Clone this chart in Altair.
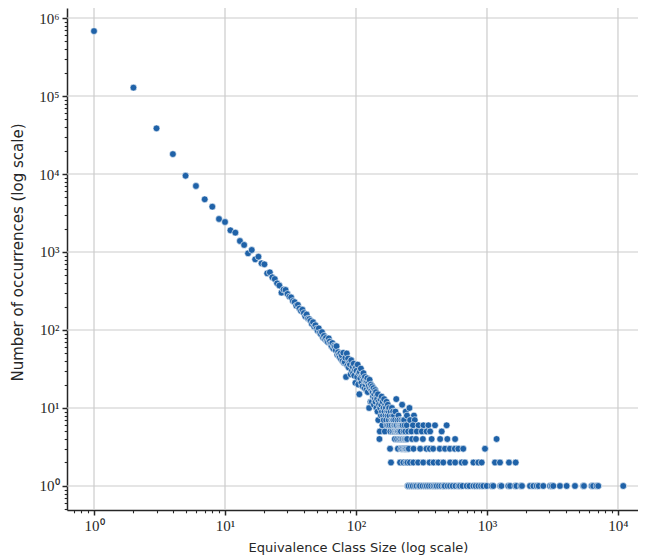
import altair as alt
import pandas as pd

# Counts for equivalence class sizes 1..250
head_counts = [
    680000, 128000, 38500, 18000, 9500, 7020, 4740, 3810, 2650, 2425,   # 1-10
    1897, 1770, 1384, 1230, 962, 1061, 806, 871, 716, 695,              # 11-20
    533, 549, 474, 450, 396, 372, 301, 330, 326, 290,                   # 21-30
    268, 262, 235, 228, 205, 210, 188, 176, 182, 165,                   # 31-40
    150, 158, 140, 138, 131, 120, 126, 110, 115, 104,                   # 41-50
    98, 105, 92, 88, 94, 80, 84, 76, 79, 72,                            # 51-60
    70, 78, 71, 66, 62, 68, 58, 63, 61, 55,                             # 61-70
    62, 48, 52, 48, 45, 50, 42, 47, 40, 51,                             # 71-80
    38, 39, 44, 25, 50, 35, 43, 33, 38, 36,                             # 81-90
    27, 41, 30, 34, 28, 37, 26, 31, 21, 33,                             # 91-100
    30, 25, 36, 20, 28, 15, 29, 24, 32, 21,                             # 101-110
    26, 19, 27, 28, 23, 18, 25, 20, 22, 17,                             # 111-120
    22, 24, 16, 21, 19, 10, 23, 18, 12, 20,                             # 121-130
    17, 12, 19, 16, 14, 18, 11, 15, 13, 17,                             # 131-140
    12, 16, 10, 14, 13, 9, 15, 7, 12, 11,                               # 141-150
    4, 5, 10, 13, 8, 11, 14, 9, 6, 12,                                  # 151-160
    8, 10, 7, 13, 9, 5, 11, 8, 10, 7,                                   # 161-170
    12, 6, 9, 8, 11, 6, 9, 7, 10, 8,                                    # 171-180
    6, 3, 5, 9, 2, 7, 6, 10, 8, 5,                                      # 181-190
    7, 9, 7, 6, 8, 5, 6, 4, 7, 9,                                       # 191-200
    5, 6, 13, 5, 6, 4, 7, 5, 3, 5,                                      # 201-210
    8, 6, 4, 7, 5, 6, 2, 4, 6, 5,                                       # 211-220
    3, 7, 6, 4, 11, 3, 6, 4, 7, 2,                                      # 221-230
    5, 3, 7, 4, 6, 3, 4, 5, 3, 9,                                       # 231-240
    2, 4, 3, 6, 8, 4, 2, 1, 3, 5,                                       # 241-250
]
head_sizes = list(range(1, len(head_counts) + 1))

# Sparse tail (sizes above 250), grouped by count
tail_10 = [256]
tail_8 = [277]
tail_7 = [259, 281]
tail_6 = [272, 300, 327, 357, 401, 492]
tail_5 = [265, 291, 318, 346, 368, 451]
tail_4 = [268, 287, 324, 378, 439, 498, 571, 1184]
tail_3 = [253, 275, 309, 345, 366, 388, 436, 478, 521, 568, 604, 659, 966]
tail_2 = [258, 274, 298, 326, 364, 391, 425, 464, 523, 572, 641, 679, 788,
          858, 911, 1151, 1257, 1472, 1656]
tail_1 = [252, 262, 271, 282, 290, 302, 308, 322, 336, 347, 360, 375, 390,
          402, 413, 430, 448, 466, 476, 500, 522, 547, 575, 606, 622, 650,
          700, 735, 787, 820, 859, 900, 937, 995, 1085, 1117, 1262, 1290,
          1454, 1500, 1640, 1680, 1808, 1850, 2130, 2259, 2395, 2480, 2690,
          3027, 3120, 3208, 3606, 4056, 4697, 5430, 5500, 6295, 6460, 6870,
          7070, 10970]

sizes = list(head_sizes)
counts = list(head_counts)
for c, lst in [(10, tail_10), (8, tail_8), (7, tail_7), (6, tail_6), (5, tail_5),
               (4, tail_4), (3, tail_3), (2, tail_2), (1, tail_1)]:
    sizes += lst
    counts += [c] * len(lst)

df = pd.DataFrame({"size": sizes, "count": counts})

# Decade gridline positions
x_decades = [1, 10, 100, 1000, 10000]
y_decades = [1, 10, 100, 1000, 10000, 100000, 1000000]

# Axis tick positions (major decades + minor ticks)
x_ticks = [0.7, 0.8, 0.9]
for d in range(0, 5):
    for k in range(1, 10):
        v = k * 10 ** d
        if v <= 14000:
            x_ticks.append(v)
y_ticks = [0.5, 0.6, 0.7, 0.8, 0.9]
for d in range(0, 7):
    for k in range(1, 10):
        v = k * 10 ** d
        if v <= 1300000:
            y_ticks.append(v)

sup = {0: "⁰", 1: "¹", 2: "²", 3: "³", 4: "⁴", 5: "⁵", 6: "⁶"}


def label_expr(maxexp):
    parts = []
    for e in range(0, maxexp + 1):
        parts.append(f"datum.value == {10 ** e} ? '10{sup[e]}'")
    return " : ".join(parts) + " : ''"


def decade_test(maxexp):
    vals = ",".join(str(10 ** e) for e in range(0, maxexp + 1))
    return f"indexof([{vals}], datum.value) >= 0"


AX = "#262626"
XSCALE = alt.Scale(type="log", domain=[0.622, 14220], nice=False)
YSCALE = alt.Scale(type="log", domain=[0.492, 1344000], nice=False)


def make_axis(title, values, maxexp, is_y):
    test = decade_test(maxexp)
    kw = dict(
        title=title,
        values=values,
        labelExpr=label_expr(maxexp),
        labelFont="Liberation Serif",
        labelFontSize=15,
        labelColor=AX,
        labelFlush=False,
        labelOverlap=False,
        labelPadding=3,
        titleFont="DejaVu Sans",
        titleFontWeight="normal",
        titleColor=AX,
        domainColor=AX,
        domainWidth=1.5,
        tickColor=AX,
        tickSize={"condition": {"test": test, "value": 5}, "value": 2.8},
        tickWidth={"condition": {"test": test, "value": 1.5}, "value": 1.1},
        grid=False,
    )
    if is_y:
        kw.update(titleFontSize=15, titleX=-42, titleY=244, titleAngle=-90,
                  titleAlign="center", titleBaseline="bottom")
    else:
        kw.update(titleFontSize=13, titleX=291, titleY=41, titleAlign="center",
                  titleBaseline="alphabetic")
    return alt.Axis(**kw)


X_AXIS = make_axis("Equivalence Class Size (log scale)", x_ticks, 4, False)
Y_AXIS = make_axis("Number of occurrences (log scale)", y_ticks, 6, True)

vgrid = (
    alt.Chart(pd.DataFrame({"gx": x_decades}))
    .mark_rule(color="#cccccc", strokeWidth=1.2)
    .encode(x=alt.X("gx:Q", scale=XSCALE, axis=X_AXIS))
)
hgrid = (
    alt.Chart(pd.DataFrame({"gy": y_decades}))
    .mark_rule(color="#cccccc", strokeWidth=1.2)
    .encode(y=alt.Y("gy:Q", scale=YSCALE, axis=Y_AXIS))
)

points = (
    alt.Chart(df)
    .mark_circle(size=46, color="#1f62a8", opacity=1, stroke="white", strokeWidth=0.6)
    .encode(
        x=alt.X("size:Q", scale=XSCALE, axis=X_AXIS),
        y=alt.Y("count:Q", scale=YSCALE, axis=Y_AXIS),
    )
)

chart = (
    alt.layer(vgrid, hgrid, points)
    .properties(
        width=571,
        height=502,
        background="white",
        autosize=alt.AutoSizeParams(type="none"),
        padding={"left": 59, "top": 0, "right": 0, "bottom": 48},
    )
    .configure_view(stroke="transparent", strokeWidth=0)
)

chart.save("out.html", embed_options={"renderer": "svg", "actions": False})
